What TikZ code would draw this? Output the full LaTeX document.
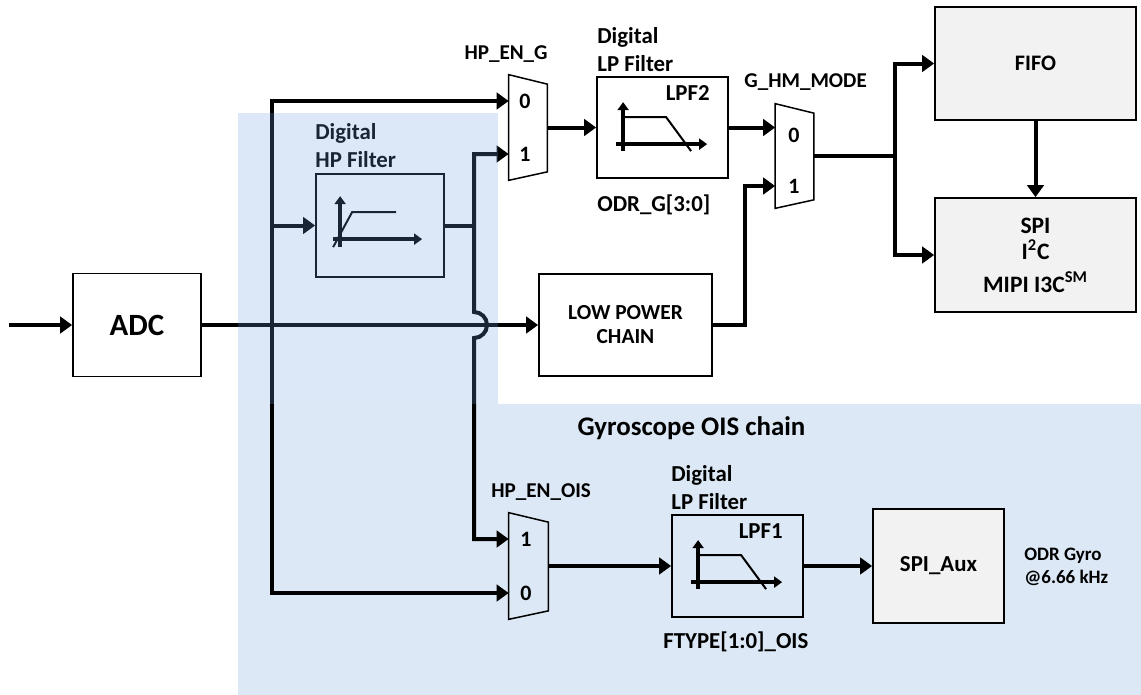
\documentclass[tikz,border=0pt]{standalone}
\usepackage{fontspec}
\setmainfont{Carlito}
\usepackage{tikz}
\usetikzlibrary{arrows.meta,calc}
\definecolor{oisblue}{RGB}{220,232,245}
\definecolor{veilblue}{RGB}{108,158,225}
\definecolor{boxgray}{RGB}{242,242,242}
\newcommand{\muxoutline}[1]{\draw[line width=0.3mm] (#1.north west) -- ([yshift=-1.9mm]#1.north east) -- ([yshift=1.7mm]#1.south east) -- (#1.south west) -- cycle;}
\newcommand{\lpgraph}[1]{\begin{scope}[shift={(#1.north west)}]
\draw[axis] (27,75) -- (27,26);
\draw[axis] (20,68) -- (111,68);
\draw[curve] (25,41) -- (70,41) -- (95,75);
\end{scope}}

\begin{document}
\begin{tikzpicture}[x=0.2mm,y=-0.2mm, >={Triangle[length=2.4mm,width=3.3mm]},
every node/.style={font=\fontsize{13}{15.9}\selectfont\bfseries, inner sep=0pt},
box/.style={draw, line width=0.35mm, align=center},
gbox/.style={box, fill=boxgray},
mux/.style={minimum width=7.6mm, minimum height=21mm},
digit/.style={font=\fontsize{12.5}{14}\selectfont\bfseries},
muxname/.style={font=\fontsize{12}{14}\selectfont\bfseries},
arr/.style={->, line width=0.8mm},
arrs/.style={<->, line width=0.8mm},
wire/.style={line width=0.8mm},
axis/.style={-{Triangle[length=1.6mm,width=2.2mm]}, line width=0.8mm},
curve/.style={line width=0.4mm}]
\useasboundingbox (0,0) rectangle (1141,695);
\fill[oisblue] (238,404) rectangle (1141,695);

\node[box, minimum width=25.6mm, minimum height=20.6mm, font=\fontsize{17.6}{20}\selectfont\bfseries] (adc) at (137,325) {ADC};
\node[box, minimum width=34.6mm, minimum height=20.4mm, font=\fontsize{12.2}{13.7}\selectfont\bfseries] (lowpow) at (625.5,325) {LOW POWER\\CHAIN};
\node[box, minimum width=25.6mm, minimum height=20.6mm] (hpf) at (380,225.5) {};
\node[box, minimum width=26.2mm, minimum height=20.2mm] (lpf2) at (662.5,127.5) {};
\node[box, minimum width=26.2mm, minimum height=20.4mm] (lpf1) at (737.5,566) {};
\node[gbox, minimum width=40.2mm, minimum height=22.6mm, font=\fontsize{12.6}{14}\selectfont\bfseries] (fifo) at (1035.5,63.5) {FIFO};
\node[gbox, minimum width=40.2mm, minimum height=22.8mm, font=\fontsize{13.4}{15}\selectfont\bfseries] (spi) at (1035.5,255) {SPI\\I\textsuperscript{2}C\\[1.2mm]MIPI I3C\textsuperscript{SM}};
\node[gbox, minimum width=26.2mm, minimum height=22.8mm, font=\fontsize{13}{15}\selectfont\bfseries] (spiaux) at (938.5,566) {SPI\_Aux};

\node[mux] (muxg) at (528,127.5) {};
\node[mux, minimum height=20.8mm] (muxhm) at (794.5,156) {};
\node[mux, minimum width=7.8mm, minimum height=21.2mm] (muxois) at (528.5,566) {};
\node[digit] (muxg0) at (525,101) {0};
\node[digit] (muxg1) at (525,154) {1};
\node[digit] (muxhm0) at (794,135) {0};
\node[digit] (muxhm1) at (794,186) {1};
\node[digit] (muxois1) at (526,539) {1};
\node[digit] (muxois0) at (526,593) {0};
\muxoutline{muxg}
\muxoutline{muxhm}
\muxoutline{muxois}

\coordinate (in) at (9,325);
\coordinate (bus) at (272,593);
\coordinate (hop) at (474,325);
\coordinate (split) at (895,155);
\draw[arr] (in) -- (adc.west);
\draw[arr] (adc.east) -- (lowpow.west);
\draw[arrs] (muxg.west |- muxg0) -| (bus) |- (muxois.west |- muxois0);
\draw[arr] (bus |- hpf.west) -- (hpf.west);
\draw[wire] (hpf.east) -- (hpf.east -| hop);
\draw[arrs] (muxg.west |- muxg1) -| ([yshift=2.6mm]hop) arc[start angle=90, end angle=-90, radius=2.6mm] |- (muxois.west |- muxois1);
\draw[arr] (muxg.east) -- (lpf2.west);
\draw[arr] (lpf2.east) -- (muxhm.west |- lpf2.east);
\draw[arr] (lowpow.east) -- ++(6.4mm,0) |- (muxhm.west |- muxhm1);
\draw[wire] (muxhm.east) -- (muxhm.east -| split);
\draw[arrs] (fifo.west) -| (split) |- (spi.west);
\draw[arr] (fifo.south) -- (spi.north);
\draw[arr] (muxois.east) -- (lpf1.west);
\draw[arr] (lpf1.east) -- (spiaux.west);

\lpgraph{lpf2}
\lpgraph{lpf1}
\begin{scope}[shift={(hpf.north west)}]
\draw[axis] (25,74) -- (25,23);
\draw[axis] (18,66) -- (107,66);
\draw[curve] (18,74) -- (37,39) -- (81,39);
\end{scope}

\node[muxname, anchor=base east] (hpeng) at (548,59) {HP\_EN\_G};
\node[anchor=south west, align=left] (lpf2cap) at (597,72) {Digital\\LP Filter};
\node[anchor=base east] (lpf2name) at (710,100) {LPF2};
\node[anchor=base west] (odrg) at (597,211) {ODR\_G[3:0]};
\node[muxname, anchor=base west] (hmmode) at (744,87) {G\_HM\_MODE};
\node[anchor=south west, align=left] (hpfcap) at (315,168) {Digital\\HP Filter};
\node[muxname, anchor=base west] (hpenois) at (491,497) {HP\_EN\_OIS};
\node[anchor=south west, align=left] (lpf1cap) at (671,510) {Digital\\LP Filter};
\node[anchor=base east] (lpf1name) at (783,538) {LPF1};
\node[anchor=base west] (ftype) at (663,648) {FTYPE[1:0]\_OIS};
\node[anchor=west, align=left, font=\fontsize{10.8}{12.8}\selectfont\bfseries] (odrgyro) at (1024,567) {ODR Gyro\\@6.66 kHz};
\node[anchor=base, font=\fontsize{15.3}{18}\selectfont\bfseries] (oistitle) at (691.5,435) {Gyroscope OIS chain};

\fill[veilblue, fill opacity=0.24] (238,113) rectangle (498,404);
\end{tikzpicture}
\end{document}
